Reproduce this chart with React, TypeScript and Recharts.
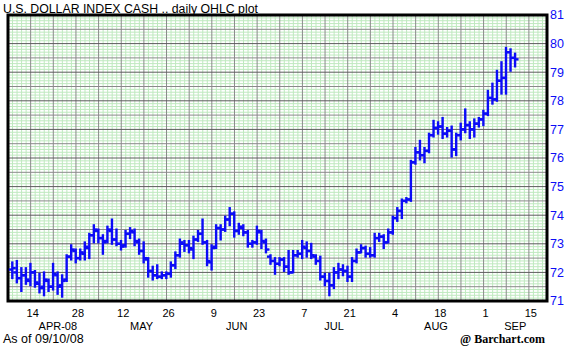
import { Bar, CartesianGrid, ComposedChart, ReferenceArea, XAxis, YAxis } from 'recharts'

// daily OHLC, Apr 8 2008 .. Sep 10 2008 (one entry per weekday)
const opens = [
  72.1, 72.0, 71.8, 71.9,
  71.7, 72.0, 71.6, 71.5, 71.7,
  71.5, 71.9, 71.55, 71.75, 72.55,
  72.75, 72.5, 72.65, 72.85, 73.3,
  73.45, 73.2, 73.1, 73.45, 73.15,
  73.0, 72.95, 73.35, 73.4, 73.05,
  72.75, 72.45, 72.05, 71.9, 71.85,
  71.9, 71.95, 72.25, 72.6, 73.0,
  72.95, 72.8, 73.15, 73.35, 73.05,
  72.35, 72.9, 73.55, 73.5, 73.85,
  74.05, 73.45, 73.55, 73.4, 73.0,
  73.05, 73.4, 73.05, 72.55, 72.4,
  72.3, 72.45, 72.2, 72.0, 72.6,
  72.65, 72.85, 72.75, 72.55, 72.4,
  71.85, 71.7, 71.55, 72.0, 72.1,
  72.05, 71.85, 72.4, 72.7, 72.85,
  72.65, 72.6, 73.2, 73.25, 73.05,
  73.4, 73.9, 74.15, 74.5, 74.55,
  75.85, 76.2, 76.1, 76.25, 76.8,
  77.05, 77.1, 76.85, 76.95, 76.3,
  76.8, 77.0, 77.15, 77.0, 77.2,
  77.35, 77.55, 78.1, 78.05, 78.7,
  78.8, 79.7, 79.5,
]
const highs = [
  72.35, 72.4, 72.15, 72.15,
  72.3, 72.05, 71.95, 72.0, 71.75,
  72.3, 72.0, 71.9, 72.6, 72.95,
  72.8, 72.8, 73.05, 73.35, 73.65,
  73.5, 73.3, 73.6, 73.85, 73.5,
  73.1, 73.45, 73.55, 73.5, 73.15,
  73.05, 72.5, 72.2, 72.25, 72.0,
  72.0, 72.35, 72.7, 73.15, 73.1,
  73.1, 73.25, 73.45, 73.85, 73.1,
  72.95, 73.65, 73.65, 73.95, 74.25,
  74.1, 73.7, 73.65, 73.45, 73.1,
  73.6, 73.45, 73.15, 72.6, 72.5,
  72.5, 72.5, 72.75, 72.75, 72.75,
  73.1, 73.05, 73.0, 72.6, 72.55,
  71.95, 71.95, 72.15, 72.3, 72.25,
  72.2, 72.5, 72.8, 72.95, 72.9,
  72.85, 73.35, 73.35, 73.3, 73.5,
  73.95, 74.25, 74.55, 74.6, 75.9,
  76.35, 76.6, 76.35, 76.85, 77.3,
  77.25, 77.4, 77.05, 77.1, 76.85,
  77.2, 77.7, 77.25, 77.35, 77.4,
  77.65, 78.35, 78.6, 79.05, 79.35,
  79.85, 79.8, 79.65,
]
const lows = [
  71.8, 71.65, 71.35, 71.6,
  71.55, 71.5, 71.3, 71.2, 71.35,
  71.4, 71.25, 71.15, 71.7, 72.45,
  72.35, 72.45, 72.45, 72.5, 73.05,
  73.05, 72.65, 73.05, 73.0, 72.95,
  72.8, 72.9, 73.2, 72.95, 72.65,
  72.35, 71.85, 71.75, 71.8, 71.8,
  71.8, 71.85, 72.15, 72.55, 72.75,
  72.7, 72.5, 73.1, 73.0, 72.25,
  72.1, 72.85, 73.15, 73.45, 73.65,
  73.25, 73.35, 73.3, 72.9, 72.9,
  73.0, 72.85, 72.7, 72.3, 71.95,
  72.25, 72.05, 71.95, 72.0, 72.55,
  72.5, 72.55, 72.5, 72.3, 71.75,
  71.55, 71.2, 71.45, 71.8, 71.9,
  71.7, 71.7, 72.35, 72.7, 72.55,
  72.55, 72.55, 73.1, 72.85, 73.05,
  73.35, 73.8, 73.9, 74.45, 74.5,
  75.8, 75.95, 75.85, 76.2, 76.75,
  76.85, 76.7, 76.75, 76.05, 76.1,
  76.65, 76.9, 76.7, 76.75, 77.1,
  77.15, 77.5, 77.9, 78.0, 78.25,
  78.25, 79.05, 79.2,
]
const closes = [
  72.15, 71.8, 71.9, 71.75,
  72.0, 71.65, 71.45, 71.75, 71.5,
  71.95, 71.5, 71.7, 72.55, 72.8,
  72.5, 72.7, 72.9, 73.3, 73.5,
  73.2, 73.05, 73.5, 73.15, 73.0,
  72.9, 73.35, 73.45, 73.1, 72.75,
  72.5, 72.05, 71.9, 71.85, 71.9,
  71.95, 72.25, 72.6, 73.05, 72.95,
  72.85, 73.15, 73.35, 73.05, 72.4,
  72.85, 73.55, 73.5, 73.85, 74.05,
  73.45, 73.6, 73.4, 73.0, 73.05,
  73.45, 73.1, 72.8, 72.4, 72.3,
  72.45, 72.2, 72.0, 72.6, 72.65,
  72.9, 72.75, 72.6, 72.4, 71.85,
  71.7, 71.55, 72.0, 72.1, 72.05,
  71.85, 72.4, 72.7, 72.85, 72.65,
  72.6, 73.2, 73.25, 73.05, 73.4,
  73.9, 74.15, 74.5, 74.55, 75.85,
  76.2, 76.1, 76.25, 76.8, 77.05,
  77.1, 76.85, 76.95, 76.3, 76.8,
  77.0, 77.15, 77.0, 77.2, 77.35,
  77.55, 78.1, 78.05, 78.7, 78.8,
  79.7, 79.5, 79.45,
]

// x axis counts weekdays from Mon Apr 7 2008 (0) to Fri Sep 19 2008 (119)
const firstDayIndex = 1
const dayTicks = [5, 15, 25, 35, 45, 55, 65, 75, 85, 95, 105, 115]
const dayLabels = ['14', '28', '12', '26', '9', '23', '7', '21', '4', '18', '1', '15']
const monthTicks = [11, 29.5, 50.5, 72, 94.5, 112]
const monthLabels = ['APR-08', 'MAY', 'JUN', 'JUL', 'AUG', 'SEP']
const priceTicks = [71, 72, 73, 74, 75, 76, 77, 78, 79, 80, 81]

const X_MAX = 119
const Y_MIN = 71
const Y_MAX = 81
const BLUE = '#0c0cf6'
const FONT = '"Liberation Sans", Arial, sans-serif'

const data = opens.map((o, k) => ({
  i: k + firstDayIndex,
  open: o,
  high: highs[k],
  low: lows[k],
  close: closes[k],
}))

const minorX: number[] = []
const weekX: number[] = []
for (let d = 1; d < X_MAX; d++) (d % 5 === 0 ? weekX : minorX).push(d)
const minorY: number[] = []
const halfY: number[] = []
const wholeY: number[] = []
for (let t = 711; t < 810; t++) {
  if (t % 10 === 0) wholeY.push(t / 10)
  else if (t % 5 === 0) halfY.push(t / 10)
  else minorY.push(t / 10)
}

// grid line generators: map axis values to pixels through the axis scale
const xGen = (vals: number[]) => (p: any) => {
  const s = p?.xAxis?.scale
  if (typeof s === 'function') return vals.map((v) => s(v))
  const o = p.offset
  return vals.map((v) => o.left + (v / X_MAX) * o.width)
}
const yGen = (vals: number[]) => (p: any) => {
  const s = p?.yAxis?.scale
  if (typeof s === 'function') return vals.map((v) => s(v))
  const o = p.offset
  return vals.map((v) => o.top + ((Y_MAX - v) / (Y_MAX - Y_MIN)) * o.height)
}

function OhlcBar(props: any) {
  const { x, y, width, height, payload } = props
  if (x == null || !payload) return null
  const cx = x + width / 2
  const top = Math.min(y, y + height)
  const span = Math.abs(height)
  const range = payload.high - payload.low
  const toY = (v: number) => (range > 0 ? top + ((payload.high - v) / range) * span : top)
  const yo = toY(payload.open)
  const yc = toY(payload.close)
  return (
    <g stroke={BLUE} strokeWidth={2.4}>
      <line x1={cx} x2={cx} y1={top - 1} y2={top + span + 1} />
      <line x1={cx - 3.5} x2={cx} y1={yo} y2={yo} />
      <line x1={cx} x2={cx + 3.5} y1={yc} y2={yc} />
    </g>
  )
}

export default function App() {
  return (
    <div style={{ position: 'absolute', left: 0, top: 0, width: 569, height: 349, background: '#fff' }}>
      <ComposedChart
        width={569}
        height={349}
        data={data}
        margin={{ top: 15, right: 0, bottom: 20, left: 8 }}
      >
        <CartesianGrid
          stroke="#bfe9bf"
          horizontalCoordinatesGenerator={yGen(minorY)}
          verticalCoordinatesGenerator={xGen(minorX)}
        />
        <CartesianGrid
          stroke="#8a8a8a"
          horizontalCoordinatesGenerator={yGen(halfY)}
          verticalCoordinatesGenerator={xGen(weekX)}
        />
        <CartesianGrid stroke="#5c5c5c" vertical={false} horizontalCoordinatesGenerator={yGen(wholeY)} />
        <XAxis
          dataKey="i"
          type="number"
          domain={[0, X_MAX]}
          ticks={dayTicks}
          tickFormatter={(v) => dayLabels[dayTicks.indexOf(v)] ?? ''}
          axisLine={false}
          tickLine={false}
          tickSize={0}
          tickMargin={8}
          height={14}
          interval={0}
          allowDataOverflow
          tick={{ fill: '#000', fontSize: 11, fontFamily: FONT, dx: 2 }}
        />
        <XAxis
          xAxisId="month"
          dataKey="i"
          type="number"
          domain={[0, X_MAX]}
          ticks={monthTicks}
          tickFormatter={(v) => monthLabels[monthTicks.indexOf(v)] ?? ''}
          axisLine={false}
          tickLine={false}
          tickSize={0}
          tickMargin={7}
          height={14}
          interval={0}
          allowDataOverflow
          tick={{ fill: '#000', fontSize: 11, fontFamily: FONT }}
        />
        <YAxis
          orientation="right"
          type="number"
          domain={[Y_MIN, Y_MAX]}
          ticks={priceTicks}
          interval={0}
          axisLine={false}
          tickLine={false}
          tickSize={0}
          tickMargin={3}
          width={22}
          allowDataOverflow
          tick={{ fill: BLUE, fontSize: 12.5, fontFamily: FONT, textAnchor: 'start' }}
        />
        <Bar
          dataKey={(d: any) => [d.low, d.high]}
          barSize={7}
          shape={OhlcBar}
          isAnimationActive={false}
        />
        <ReferenceArea
          x1={0}
          x2={X_MAX}
          y1={Y_MIN}
          y2={Y_MAX}
          fill="none"
          stroke="#000"
          strokeWidth={3}
          ifOverflow="visible"
        />
      </ComposedChart>
      <svg
        width={569}
        height={349}
        style={{ position: 'absolute', left: 0, top: 0, pointerEvents: 'none' }}
      >
        <text x={3} y={13} fontSize={12.3} fontFamily={FONT} fill="#000">
          U.S. DOLLAR INDEX CASH .. daily OHLC plot
        </text>
        <text x={3} y={343} fontSize={12.5} fontFamily={FONT} fill="#000">
          As of 09/10/08
        </text>
        <text
          x={545}
          y={343}
          fontSize={12}
          fontWeight="bold"
          fontFamily='"Liberation Serif", "Times New Roman", serif'
          textAnchor="end"
          fill="#000"
        >
          @ Barchart.com
        </text>
      </svg>
    </div>
  )
}
